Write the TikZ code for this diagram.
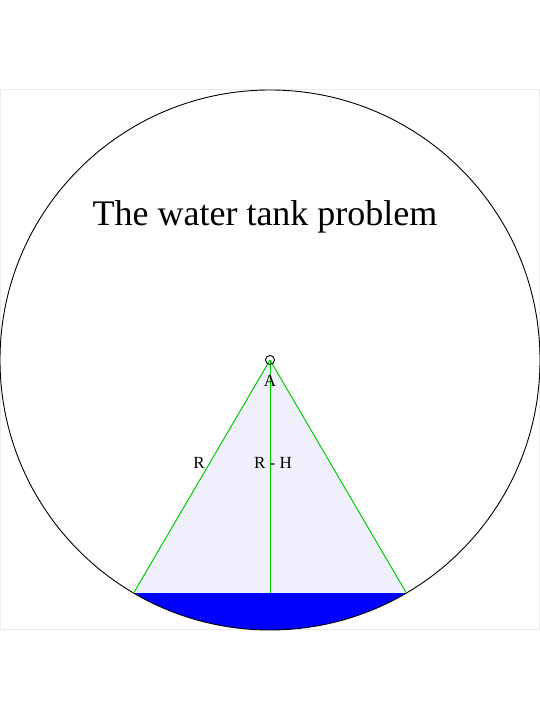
\documentclass[tikz,border=0pt]{standalone}
\usepackage{fontspec}
\setmainfont{Liberation Serif}
\definecolor{boxgray}{RGB}{235,235,235}
\definecolor{lineg}{RGB}{0,205,0}
\definecolor{trifill}{RGB}{240,240,252}
\definecolor{waterblue}{RGB}{0,0,255}
\begin{document}
\begin{tikzpicture}[x=1pt,y=1pt,
  frame/.style={draw=boxgray,line width=1pt},
  tank/.style={draw=black,line width=0.9pt},
  gline/.style={draw=lineg,line width=1pt},
  tri/.style={fill=trifill},
  water/.style={fill=waterblue},
  lbl/.style={font=\fontsize{17}{19}\selectfont,inner sep=0pt},
  title/.style={font=\fontsize{36}{40}\selectfont,inner sep=0pt,anchor=base}]
\useasboundingbox (0,0) rectangle (540,720);
\draw[frame] (0.5,90) rectangle (539.5,630);
\coordinate (A) at (270,360);
\coordinate (L) at ([shift={(270,360)}]239.66:270);
\coordinate (R) at ([shift={(270,360)}]300.34:270);
\coordinate (M) at (270,127);
\fill[tri] (A) -- (L) -- (R) -- cycle;
\fill[water] (L) arc[start angle=239.66,end angle=300.34,radius=270] -- cycle;
\draw[tank] (A) circle[radius=270];
\draw[gline] (A) -- (L);
\draw[gline] (A) -- (R);
\draw[gline] (A) -- (M);
\node[draw=black,line width=0.9pt,circle,inner sep=0pt,minimum size=9pt] (Apt) at (A) {};
\node[lbl] (Alab) at (270,339) {A};
\node[lbl] (Rlab) at (199,257) {R};
\node[lbl] (RHlab) at (273,257) {R - H};
\node[title] (ttl) at (265,494) {The water tank problem};
\end{tikzpicture}
\end{document}
